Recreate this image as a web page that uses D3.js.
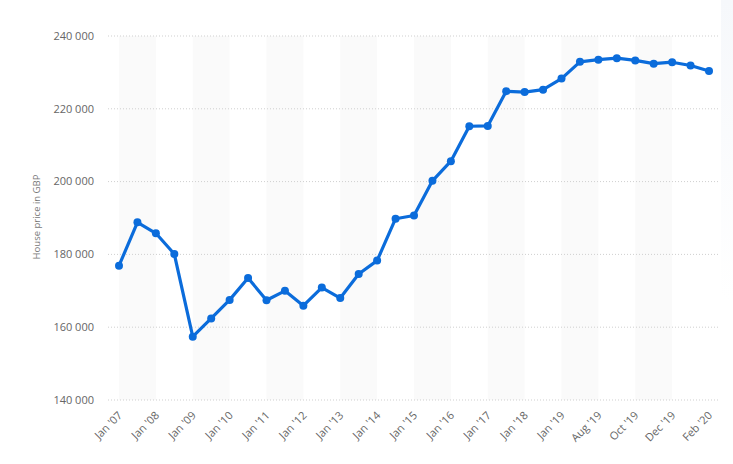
<!DOCTYPE html>
<html><head><meta charset="utf-8">
<script src="https://cdn.jsdelivr.net/npm/d3@7/dist/d3.min.js"></script>
<style>body{margin:0;background:#fff;}svg{display:block;font-family:"Open Sans","Noto Sans",sans-serif;}</style>
</head><body><svg id="c" width="733" height="464"></svg>
<script>
const categories = ["Jan '07","Jul '07","Jan '08","Jul '08","Jan '09","Jul '09","Jan '10","Jul '10","Jan '11","Jul '11","Jan '12","Jul '12","Jan '13","Jul '13","Jan '14","Jul '14","Jan '15","Jul '15","Jan '16","Jul '16","Jan '17","Jul '17","Jan '18","Jul '18","Jan '19","Jul '19","Aug '19","Sep '19","Oct '19","Nov '19","Dec '19","Jan '20","Feb '20"];
const prices = [176900,188800,185800,180100,157400,162400,167500,173500,167400,170000,165900,170900,168000,174600,178300,189800,190700,200200,205600,215200,215300,224800,224600,225250,228300,232900,233500,233900,233300,232400,232800,231900,230400];
const yTicks = [140000,160000,180000,200000,220000,240000];
const yTitle = "House price in GBP";

const svg = d3.select("#c");
const L = 108, R = 719, T = 36, B = 400;
const x = d3.scalePoint().domain(categories).range([119, 709]);
const y = d3.scaleLinear().domain([140000, 240000]).range([B, T]);

// right-edge faint panel
const defs = svg.append("defs");
const g1 = defs.append("linearGradient").attr("id","edge").attr("x1",0).attr("x2",0).attr("y1",0).attr("y2",1);
g1.append("stop").attr("offset","0%").attr("stop-color","#f6f8fb");
g1.append("stop").attr("offset","100%").attr("stop-color","#ffffff");
svg.append("rect").attr("x",721).attr("y",0).attr("width",12).attr("height",300).attr("fill","url(#edge)");

// alternating bands
const bands = categories.map((c,i)=>i).filter(i => i % 4 === 0 && i + 2 < categories.length);
svg.append("g").selectAll("rect").data(bands).join("rect")
  .attr("x", i => x(categories[i]))
  .attr("width", i => x(categories[i+2]) - x(categories[i]))
  .attr("y", T).attr("height", B - T)
  .attr("fill", "#fafafa");

// grid lines
svg.append("g").selectAll("line").data(yTicks).join("line")
  .attr("x1", L).attr("x2", R)
  .attr("y1", d => y(d)).attr("y2", d => y(d))
  .attr("stroke", "#cfcfcf").attr("stroke-width", 1).attr("stroke-dasharray", "1,2");

// y axis labels
const fmt = d => d3.format(",")(d).replace(/,/g, " ");
svg.append("g").selectAll("text").data(yTicks).join("text")
  .attr("x", 94).attr("y", d => y(d)).attr("dy", "0.35em")
  .attr("text-anchor", "end").attr("font-size", 11).attr("fill", "#666")
  .text(fmt);

// y title
svg.append("text")
  .attr("transform", "translate(40,217) rotate(-90)")
  .attr("text-anchor", "middle").attr("font-size", 9.5).attr("fill", "#777")
  .text(yTitle);

// x labels (every other category)
const shown = categories.filter((c,i) => i % 2 === 0);
svg.append("g").selectAll("text").data(shown).join("text")
  .attr("transform", d => `translate(${x(d)+4},${416}) rotate(-45)`)
  .attr("text-anchor", "end").attr("font-size", 11).attr("fill", "#666")
  .text(d => d);

// line
const line = d3.line().x((d,i) => x(categories[i])).y(d => y(d));
svg.append("path").datum(prices)
  .attr("d", line).attr("fill", "none")
  .attr("stroke", "#0b6cdb").attr("stroke-width", 3.2).attr("stroke-linejoin", "round");

svg.append("g").selectAll("circle").data(prices).join("circle")
  .attr("cx", (d,i) => x(categories[i])).attr("cy", d => y(d))
  .attr("r", 4).attr("fill", "#0b6cdb");
</script>
</body></html>
